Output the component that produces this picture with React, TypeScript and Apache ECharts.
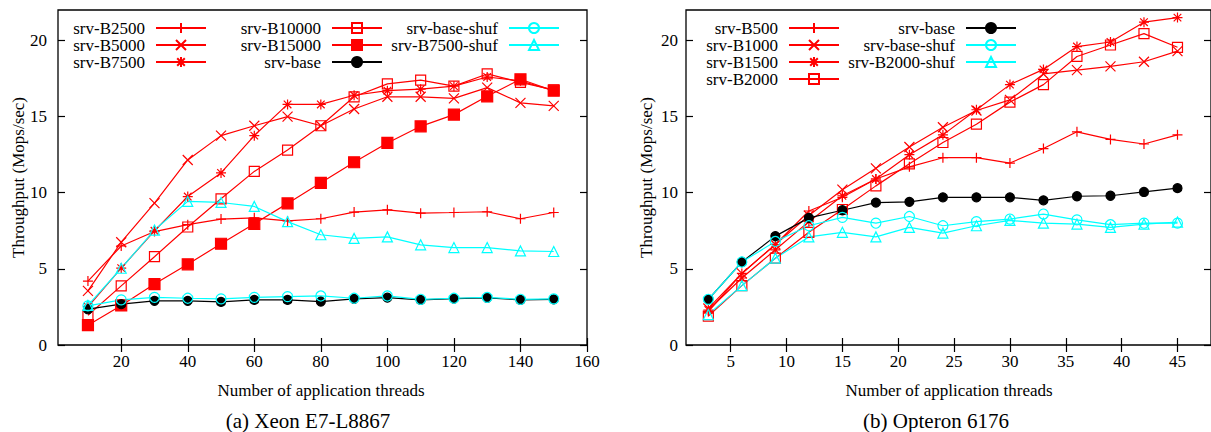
import React, { useEffect, useRef } from 'react';
import * as echarts from 'echarts';

// ---------- Data: (a) Xeon E7-L8867 ----------
const xeonThreads = [10, 20, 30, 40, 50, 60, 70, 80, 90, 100, 110, 120, 130, 140, 150];
const xeonB2500 = [4.2, 6.5, 7.45, 7.9, 8.27, 8.35, 8.15, 8.29, 8.73, 8.88, 8.66, 8.7, 8.75, 8.29, 8.7];
const xeonB5000 = [3.55, 6.75, 9.32, 12.15, 13.75, 14.4, 15.0, 14.4, 15.5, 16.3, 16.3, 16.2, 16.9, 15.9, 15.7];
const xeonB7500 = [2.5, 5.05, 7.5, 9.75, 11.3, 13.75, 15.8, 15.8, 16.4, 16.7, 16.8, 17.0, 17.6, 17.35, 16.7];
const xeonB10000 = [1.95, 3.88, 5.8, 7.75, 9.6, 11.4, 12.8, 14.4, 16.3, 17.15, 17.4, 17.0, 17.8, 17.25, 16.75];
const xeonB15000 = [1.3, 2.6, 4.0, 5.3, 6.65, 7.96, 9.3, 10.65, 12.0, 13.27, 14.36, 15.13, 16.33, 17.45, 16.7];
const xeonBase = [2.35, 2.68, 2.9, 2.9, 2.83, 2.96, 2.96, 2.85, 3.03, 3.11, 2.96, 3.05, 3.1, 2.96, 3.0];
const xeonBaseShuf = [2.57, 2.96, 3.13, 3.07, 3.03, 3.13, 3.18, 3.22, 3.07, 3.22, 3.0, 3.07, 3.13, 3.0, 3.03];
const xeonB7500Shuf = [2.6, 5.04, 7.55, 9.43, 9.36, 9.1, 8.1, 7.24, 7.0, 7.1, 6.58, 6.4, 6.4, 6.18, 6.14];

// ---------- Data: (b) Opteron 6176 ----------
const optThreads = [3, 6, 9, 12, 15, 18, 21, 24, 27, 30, 33, 36, 39, 42, 45];
const optB500 = [2.2, 4.7, 6.6, 8.8, 9.7, 10.9, 11.7, 12.3, 12.3, 11.95, 12.9, 14.0, 13.5, 13.2, 13.8];
const optB1000 = [2.4, 4.7, 6.6, 8.5, 10.2, 11.6, 13.0, 14.3, 15.4, 16.1, 17.8, 18.05, 18.3, 18.6, 19.3];
const optB1500 = [2.3, 4.4, 6.25, 8.1, 9.8, 10.9, 12.5, 13.8, 15.45, 17.1, 18.1, 19.6, 19.9, 21.2, 21.5];
const optB2000 = [1.9, 3.9, 5.7, 7.4, 8.9, 10.45, 11.9, 13.3, 14.5, 15.95, 17.1, 18.95, 19.7, 20.45, 19.55];
const optBase = [3.0, 5.45, 7.15, 8.35, 8.85, 9.35, 9.4, 9.7, 9.7, 9.7, 9.5, 9.77, 9.8, 10.05, 10.3];
const optBaseShuf = [3.0, 5.45, 6.8, 7.83, 8.38, 8.0, 8.44, 7.83, 8.1, 8.27, 8.6, 8.22, 7.9, 8.0, 8.0];
const optB2000Shuf = [2.0, 3.9, 5.7, 7.1, 7.4, 7.1, 7.72, 7.35, 7.83, 8.18, 8.0, 7.94, 7.72, 7.94, 8.07];

// ---------- Axes ----------
const xeonXTicks = [20, 40, 60, 80, 100, 120, 140, 160];
const optXTicks = [5, 10, 15, 20, 25, 30, 35, 40, 45];
const yTicks = [0, 5, 10, 15, 20];
const xeonXRange = [1, 160];
const optXRange = [1, 48];
const yRange = [0, 22];

const xTitle = 'Number of application threads';
const yTitle = 'Throughput (Mops/sec)';
const captionA = '(a) Xeon E7-L8867';
const captionB = '(b) Opteron 6176';

const RED = '#ff0000';
const CYAN = '#00ffff';
const BLACK = '#000000';
const FONT = 'Liberation Serif';

const PLUS = 'path://M0 50L100 50M50 0L50 100';
const CROSS = 'path://M0 0L100 100M100 0L0 100';
const STAR = 'path://M0 50L100 50M50 0L50 100M12 12L88 88M88 12L12 88';

function mk(name: string, xs: number[], ys: number[], symbol: string, color: string, filled: boolean, size: number, g: number) {
  return {
    type: 'line',
    name,
    xAxisIndex: g * 2,
    yAxisIndex: g * 2,
    data: xs.map((x, i) => [x, ys[i]]),
    symbol,
    symbolSize: size,
    showSymbol: true,
    showAllSymbol: true,
    lineStyle: { color, width: 1.2 },
    itemStyle: { color: filled ? color : 'rgba(0,0,0,0)', borderColor: color, borderWidth: 1.2 },
    emphasis: { disabled: true },
    animation: false,
  };
}

function xAxes(range: number[], ticks: number[], g: number) {
  const base = {
    type: 'value',
    gridIndex: g,
    min: range[0],
    max: range[1],
    splitLine: { show: false },
    axisLine: { show: false },
  };
  return [
    {
      ...base,
      position: 'bottom',
      axisTick: { show: true, inside: true, length: 7, customValues: ticks, lineStyle: { color: BLACK, width: 1.2 } },
      axisLabel: { show: true, customValues: ticks, margin: 8, fontFamily: FONT, fontSize: 17, color: BLACK },
    },
    {
      ...base,
      position: 'top',
      axisTick: { show: true, inside: true, length: 7, customValues: ticks, lineStyle: { color: BLACK, width: 1.2 } },
      axisLabel: { show: false, customValues: ticks },
    },
  ];
}

function yAxes(g: number, margin: number) {
  const base = {
    type: 'value',
    gridIndex: g,
    min: yRange[0],
    max: yRange[1],
    splitLine: { show: false },
    axisLine: { show: false },
  };
  return [
    {
      ...base,
      position: 'left',
      axisTick: { show: true, inside: true, length: 7, customValues: yTicks, lineStyle: { color: BLACK, width: 1.2 } },
      axisLabel: { show: true, customValues: yTicks, margin, fontFamily: FONT, fontSize: 17, color: BLACK },
    },
    {
      ...base,
      position: 'right',
      axisTick: { show: true, inside: true, length: 7, customValues: yTicks, lineStyle: { color: BLACK, width: 1.2 } },
      axisLabel: { show: false, customValues: yTicks },
    },
  ];
}

function legendCol(names: string[], right: number) {
  return {
    show: true,
    orient: 'vertical',
    align: 'right',
    right,
    top: 19.5,
    padding: 0,
    itemGap: 0,
    itemWidth: 50,
    itemHeight: 12.5,
    selectedMode: false,
    textStyle: { fontFamily: FONT, fontSize: 17, color: BLACK, lineHeight: 17, padding: [0, 6, 0, 0] },
    data: names,
  };
}

const textStyle = (text: string, size: number) => ({
  text,
  fontFamily: FONT,
  fontSize: size,
  fill: BLACK,
  textAlign: 'center',
  textVerticalAlign: 'middle',
});

export default function App() {
  const ref = useRef<HTMLDivElement>(null);
  useEffect(() => {
    if (!ref.current) return;
    const chart = echarts.init(ref.current, null, { renderer: 'svg' });
    const option: any = {
      animation: false,
      backgroundColor: '#ffffff',
      grid: [
        { left: 58, top: 10, width: 529, height: 335, show: true, borderColor: BLACK, borderWidth: 1.3, backgroundColor: 'transparent' },
        { left: 686, top: 10, width: 528.5, height: 335, show: true, borderColor: BLACK, borderWidth: 1.3, backgroundColor: 'transparent' },
      ],
      xAxis: [...xAxes(xeonXRange, xeonXTicks, 0), ...xAxes(optXRange, optXTicks, 1)],
      yAxis: [...yAxes(0, 11), ...yAxes(1, 8)],
      legend: [
        legendCol(['srv-B2500', 'srv-B5000', 'srv-B7500'], 1211 - 207),
        legendCol(['srv-B10000', 'srv-B15000', 'srv-base'], 1211 - 383),
        legendCol(['srv-base-shuf', 'srv-B7500-shuf'], 1211 - 560),
        legendCol(['srv-B500', 'srv-B1000', 'srv-B1500', 'srv-B2000'], 1211 - 840),
        legendCol(['srv-base', 'srv-base-shuf', 'srv-B2000-shuf'], 1211 - 1017),
      ],
      series: [
        mk('srv-B2500', xeonThreads, xeonB2500, PLUS, RED, false, 10, 0),
        mk('srv-B5000', xeonThreads, xeonB5000, CROSS, RED, false, 10, 0),
        mk('srv-B7500', xeonThreads, xeonB7500, STAR, RED, false, 10, 0),
        mk('srv-B10000', xeonThreads, xeonB10000, 'rect', RED, false, 10, 0),
        mk('srv-B15000', xeonThreads, xeonB15000, 'rect', RED, true, 11, 0),
        mk('srv-base', xeonThreads, xeonBase, 'circle', BLACK, true, 9, 0),
        mk('srv-base-shuf', xeonThreads, xeonBaseShuf, 'circle', CYAN, false, 10, 0),
        mk('srv-B7500-shuf', xeonThreads, xeonB7500Shuf, 'triangle', CYAN, false, 10, 0),
        mk('srv-B500', optThreads, optB500, PLUS, RED, false, 10, 1),
        mk('srv-B1000', optThreads, optB1000, CROSS, RED, false, 10, 1),
        mk('srv-B1500', optThreads, optB1500, STAR, RED, false, 10, 1),
        mk('srv-B2000', optThreads, optB2000, 'rect', RED, false, 10, 1),
        mk('srv-base', optThreads, optBase, 'circle', BLACK, true, 9, 1),
        mk('srv-base-shuf', optThreads, optBaseShuf, 'circle', CYAN, false, 10, 1),
        mk('srv-B2000-shuf', optThreads, optB2000Shuf, 'triangle', CYAN, false, 10, 1),
      ],
      graphic: [
        { type: 'text', x: 18.5, y: 177.5, rotation: Math.PI / 2, style: textStyle(yTitle, 17) },
        { type: 'text', x: 646.5, y: 177.5, rotation: Math.PI / 2, style: textStyle(yTitle, 17) },
        { type: 'text', x: 321, y: 390, style: textStyle(xTitle, 17) },
        { type: 'text', x: 949, y: 390, style: textStyle(xTitle, 17) },
        { type: 'text', x: 308, y: 421, style: textStyle(captionA, 21) },
        { type: 'text', x: 936, y: 421, style: textStyle(captionB, 21) },
      ],
    };
    chart.setOption(option);
    return () => chart.dispose();
  }, []);
  return <div ref={ref} style={{ position: 'absolute', left: 0, top: 0, width: 1211, height: 432, background: '#fff' }} />;
}
